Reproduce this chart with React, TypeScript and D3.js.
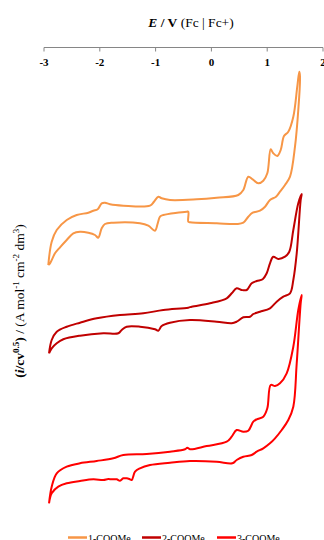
import React from "react";
import * as d3 from "d3";

// Cyclic voltammograms: [E / V vs Fc|Fc+, normalised current (arbitrary, offset per trace)]
const cv1: [number, number][] = [
  [-2.923, 25.5], [-2.862, 27.83], [-2.772, 29.0], [-2.593, 30.0], [-2.414, 30.5], [-2.206, 30.73],
  [-2.116, 30.93], [-2.038, 31.07], [-1.966, 31.67], [-1.907, 31.73], [-1.817, 31.57], [-1.579, 31.43],
  [-1.1, 31.43], [-1.029, 31.83], [-0.952, 32.33], [-0.891, 32.17], [-0.742, 32.0], [-0.263, 32.07],
  [0.095, 32.23], [0.482, 32.5], [0.572, 33.0], [0.661, 34.33], [0.74, 34.07], [0.841, 33.67],
  [0.93, 33.93], [1.002, 34.67], [1.063, 37.07], [1.109, 36.67], [1.181, 36.4], [1.242, 37.0],
  [1.301, 38.4], [1.378, 38.83], [1.468, 40.33], [1.539, 43.33], [1.575, 44.83],
  [1.588, 44.33], [1.557, 41.0], [1.498, 37.33], [1.409, 34.33], [1.319, 33.5], [1.229, 32.83],
  [1.158, 32.33], [1.05, 32.0], [0.961, 31.33], [0.871, 30.93], [0.74, 30.73], [0.661, 30.33],
  [0.572, 29.73], [0.453, 29.6], [0.095, 29.67], [-0.384, 29.77], [-0.414, 29.83], [-0.414, 30.83],
  [-0.443, 30.83], [-0.862, 30.5], [-0.921, 30.33], [-0.962, 29.67], [-1.011, 28.93], [-1.131, 29.43],
  [-1.28, 29.67], [-1.758, 29.73], [-1.907, 29.6], [-1.966, 29.17], [-2.027, 28.23], [-2.086, 28.5],
  [-2.206, 28.73], [-2.355, 28.83], [-2.475, 28.67], [-2.593, 28.0], [-2.713, 27.27], [-2.803, 26.67],
  [-2.892, 25.67], [-2.923, 25.5],
];

const cv2: [number, number][] = [
  [-2.91, 16.67], [-2.862, 18.0], [-2.772, 18.83], [-2.593, 19.33], [-2.355, 19.73], [-2.056, 20.17],
  [-1.638, 20.5], [-1.22, 20.67], [-0.862, 21.0], [-0.414, 21.23], [-0.353, 21.33], [-0.025, 21.67],
  [0.274, 22.17], [0.364, 22.67], [0.453, 23.17], [0.543, 23.0], [0.633, 23.0], [0.722, 23.67],
  [0.812, 23.9], [0.919, 24.07], [0.991, 24.67], [1.05, 25.67], [1.109, 26.33], [1.199, 26.1],
  [1.319, 26.33], [1.396, 26.83], [1.468, 29.0], [1.557, 31.67], [1.618, 32.6],
  [1.6, 32.0], [1.529, 26.67], [1.468, 24.0], [1.409, 22.67], [1.289, 22.33], [1.17, 21.83],
  [1.05, 21.17], [0.871, 20.83], [0.751, 20.6], [0.692, 20.33], [0.572, 20.27], [0.453, 19.83],
  [0.364, 19.67], [0.095, 19.83], [-0.384, 20.0], [-0.742, 19.73], [-0.891, 19.4], [-0.952, 18.93],
  [-1.011, 19.07], [-1.28, 19.33], [-1.518, 19.33], [-1.608, 19.0], [-1.668, 18.67], [-1.937, 18.67],
  [-2.355, 18.43], [-2.654, 18.07], [-2.772, 17.67], [-2.862, 17.17], [-2.91, 16.67],
];

const cv3: [number, number][] = [
  [-2.91, 1.67], [-2.862, 3.33], [-2.772, 4.67], [-2.593, 5.33], [-2.355, 5.67], [-2.056, 5.9],
  [-1.758, 6.17], [-1.579, 6.5], [-1.16, 6.6], [-0.742, 6.83], [-0.473, 7.07], [-0.432, 7.23],
  [-0.384, 7.07], [-0.084, 7.4], [0.274, 7.83], [0.364, 8.33], [0.453, 9.0], [0.572, 8.83],
  [0.661, 8.93], [0.751, 9.83], [0.812, 10.07], [0.93, 10.33], [1.002, 11.17], [1.063, 13.5],
  [1.14, 13.4], [1.229, 13.67], [1.349, 14.67], [1.468, 17.33], [1.557, 21.0], [1.618, 22.5],
  [1.6, 21.67], [1.529, 15.67], [1.468, 11.33], [1.378, 10.0], [1.26, 9.0], [1.14, 8.17],
  [1.05, 7.67], [0.93, 7.17], [0.812, 6.83], [0.722, 6.5], [0.572, 6.33], [0.453, 6.0],
  [0.375, 5.67], [0.095, 5.83], [-0.384, 5.9], [-0.742, 5.73], [-1.1, 5.5], [-1.28, 5.17],
  [-1.369, 4.83], [-1.428, 4.0], [-1.471, 4.1], [-1.518, 4.17], [-1.579, 4.17], [-1.638, 3.93],
  [-1.697, 4.07], [-1.787, 4.07], [-1.848, 4.1], [-1.937, 4.0], [-2.116, 4.07], [-2.355, 3.9],
  [-2.593, 3.67], [-2.744, 3.33], [-2.862, 2.67], [-2.91, 1.67],
];

const seriesNames = ["1-COOMe", "2-COOMe", "3-COOMe"];
const seriesData = [cv1, cv2, cv3];
const seriesColors = ["#F79646", "#C00000", "#FF0000"];
const xTicks = [-3, -2, -1, 0, 1, 2];

const W = 324;
const H = 540;
const axisY = 47.5;

export default function App() {
  const x = d3.scaleLinear().domain([-3, 2]).range([44, 323]);
  const y = d3.scaleLinear().domain([0, 48]).range([520, 40]);
  const line = d3
    .line<[number, number]>()
    .x((d) => x(d[0]))
    .y((d) => y(d[1]))
    .curve(d3.curveCatmullRom.alpha(0.5));

  const legendX = [68, 142, 217];

  return (
    <div style={{ position: "absolute", left: 0, top: 0 }}>
      <svg width={W} height={H} style={{ display: "block", background: "#fff" }}>
        {/* axis title */}
        <text x={191} y={27} textAnchor="middle" fontFamily="Liberation Serif" fontSize={13.5}>
          <tspan fontWeight="bold" fontStyle="italic">E</tspan>
          <tspan fontWeight="bold"> / V</tspan>
          <tspan>{"  (Fc | Fc+)"}</tspan>
        </text>

        {/* top x axis */}
        <line x1={x(-3)} x2={x(2)} y1={axisY} y2={axisY} stroke="#868686" strokeWidth={1} />
        {xTicks.map((t) => (
          <g key={t}>
            <line x1={x(t)} x2={x(t)} y1={axisY} y2={axisY + 4} stroke="#868686" strokeWidth={1} />
            <text
              x={x(t)}
              y={66}
              textAnchor="middle"
              fontFamily="Liberation Serif"
              fontWeight="bold"
              fontSize={11}
            >
              {t}
            </text>
          </g>
        ))}

        {/* y axis title */}
        <text
          transform="translate(24,301) rotate(-90)"
          textAnchor="middle"
          fontFamily="Liberation Serif"
          fontSize={13.5}
        >
          <tspan fontWeight="bold">(</tspan>
          <tspan fontWeight="bold" fontStyle="italic">i</tspan>
          <tspan fontWeight="bold">/cv</tspan>
          <tspan fontWeight="bold" fontSize={9} dy={-5}>0.5</tspan>
          <tspan fontWeight="bold" dy={5}>)</tspan>
          <tspan> / (A mol</tspan>
          <tspan fontSize={9} dy={-5}>-1</tspan>
          <tspan dy={5}> cm</tspan>
          <tspan fontSize={9} dy={-5}>-2</tspan>
          <tspan dy={5}> dm</tspan>
          <tspan fontSize={9} dy={-5}>3</tspan>
          <tspan dy={5}>)</tspan>
        </text>

        {/* voltammograms */}
        {seriesData.map((d, i) => (
          <path
            key={seriesNames[i]}
            d={line(d) ?? ""}
            fill="none"
            stroke={seriesColors[i]}
            strokeWidth={2}
            strokeLinejoin="round"
          />
        ))}

        {/* legend */}
        {seriesNames.map((n, i) => (
          <g key={n}>
            <line
              x1={legendX[i]}
              x2={legendX[i] + 19}
              y1={537.5}
              y2={537.5}
              stroke={seriesColors[i]}
              strokeWidth={2.5}
            />
            <text x={legendX[i] + 20} y={542} fontFamily="Liberation Serif" fontSize={10}>
              {n}
            </text>
          </g>
        ))}
      </svg>
    </div>
  );
}
